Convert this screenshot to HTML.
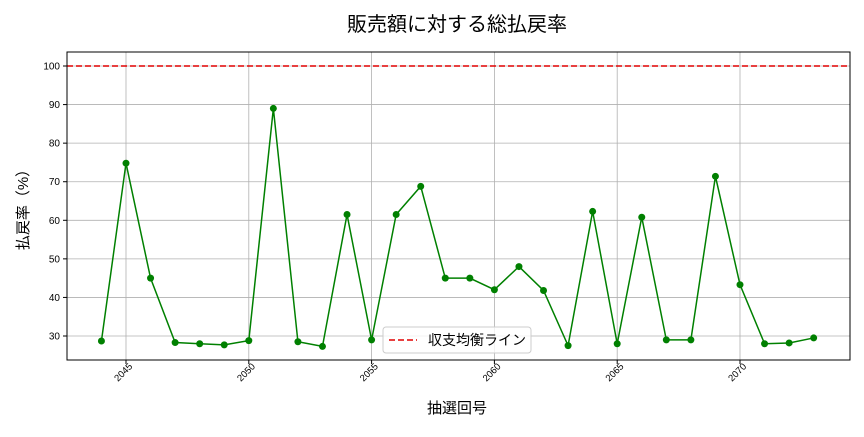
<!DOCTYPE html>
<html><head><meta charset="utf-8"><style>
body{margin:0;background:#fff;}
svg text{font-family:"Liberation Sans","Noto Sans CJK JP",sans-serif;}
</style></head><body>
<svg id="s" width="864" height="432" xmlns="http://www.w3.org/2000/svg"></svg>
<script>
const s=document.getElementById('s');
const L=67,R=850,T=52,B=360;
const X=n=>126+(n-2045)*24.56, Y=v=>336-(v-30)*3.857;
const d=[28.7,74.8,45,28.3,28,27.7,28.8,89,28.5,27.3,61.5,29,61.5,68.8,45,45,42,48,41.8,27.5,62.3,28,60.8,29,29,71.4,43.3,28,28.2,29.5];
let h='<rect width="864" height="432" fill="#fff"/>';
h+=`<text x="457" y="31" font-size="20" text-anchor="middle" fill="#000">販売額に対する総払戻率</text>`;
for(let v=30;v<=100;v+=10){const y=Y(v);h+=`<line x1="${L}" x2="${R}" y1="${y}" y2="${y}" stroke="#b0b0b0" stroke-width="0.8"/><line x1="${L-4}" x2="${L}" y1="${y}" y2="${y}" stroke="#000"/><text x="${L-7}" y="${y+3.5}" font-size="10" text-anchor="end">${v}</text>`;}
for(let n=2045;n<=2070;n+=5){const x=X(n);h+=`<line x1="${x}" x2="${x}" y1="${T}" y2="${B}" stroke="#b0b0b0" stroke-width="0.8"/><line x1="${x}" x2="${x}" y1="${B}" y2="${B+4}" stroke="#000"/><text transform="translate(${x+7},${B+7}) rotate(-45)" font-size="9.5" text-anchor="end">${n}</text>`;}
h+=`<line x1="${L}" x2="${R}" y1="${Y(100)}" y2="${Y(100)}" stroke="#e00000" stroke-width="1.5" stroke-dasharray="6,3"/>`;
let p=d.map((v,i)=>X(2044+i)+','+Y(v)).join(' ');
h+=`<polyline points="${p}" fill="none" stroke="#008000" stroke-width="1.5"/>`;
d.forEach((v,i)=>h+=`<circle cx="${X(2044+i)}" cy="${Y(v)}" r="3.5" fill="#008000"/>`);
h+=`<rect x="${L}" y="${T}" width="${R-L}" height="${B-T}" fill="none" stroke="#000" stroke-width="1"/>`;
h+=`<rect x="383" y="327" width="148" height="26" rx="3" fill="#fff" fill-opacity="0.8" stroke="#ccc"/><line x1="389" x2="417" y1="340" y2="340" stroke="#e00000" stroke-width="1.5" stroke-dasharray="6,3"/><text x="428" y="345" font-size="14">収支均衡ライン</text>`;
h+=`<text x="457" y="413" font-size="15" text-anchor="middle">抽選回号</text>`;
h+=`<text transform="translate(28,206) rotate(-90)" font-size="15" text-anchor="middle">払戻率（%）</text>`;
s.innerHTML=h;
</script>
</body></html>
